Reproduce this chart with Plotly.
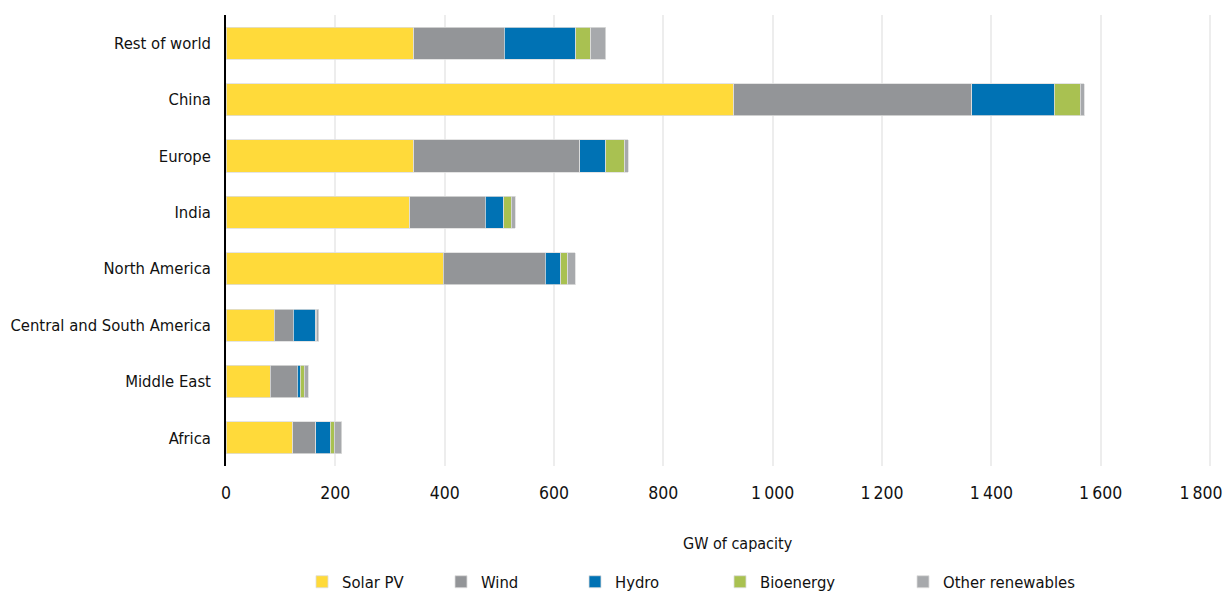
import plotly.graph_objects as go

# Regions, listed top to bottom as displayed
regions = [
    "Rest of world",
    "China",
    "Europe",
    "India",
    "North America",
    "Central and South America",
    "Middle East",
    "Africa",
]

# Renewable capacity by technology (GW)
solar_pv = [343, 929, 343, 336, 397, 88, 81, 122]
wind = [166, 435, 304, 138, 187, 35, 49, 42]
hydro = [131, 151, 48, 34, 28, 41, 6, 27]
bioenergy = [27, 48, 34, 14, 13, 1, 7, 7]
other_renewables = [28, 7, 7, 7, 14, 5, 7, 14]

tick_values = [0, 200, 400, 600, 800, 1000, 1200, 1400, 1600, 1800]
tick_labels = ["0", "200", "400", "600", "800", "1\u2009000", "1\u2009200",
               "1\u2009400", "1\u2009600", "1\u2009800"]

FONT = "DejaVu Sans Condensed, DejaVu Sans, sans-serif"

series = [
    ("Solar PV", solar_pv, "#FFDA3A", "legend"),
    ("Wind", wind, "#939598", "legend2"),
    ("Hydro", hydro, "#0072B4", "legend3"),
    ("Bioenergy", bioenergy, "#A9C151", "legend4"),
    ("Other renewables", other_renewables, "#A7A9AC", "legend5"),
]

fig = go.Figure()
for name, values, color, leg in series:
    fig.add_trace(go.Bar(
        y=regions,
        x=values,
        name=name,
        orientation="h",
        width=0.57,
        marker=dict(color=color, line=dict(color="#dddddd", width=0.8)),
        legend=leg,
        hoverinfo="x+name",
    ))

# Empty helper trace so the overlaid x axis (last tick label) is rendered
fig.add_trace(go.Scatter(
    x=[None], y=[None], xaxis="x2", yaxis="y",
    mode="markers", showlegend=False, hoverinfo="skip",
))

# Plot area starts at 226 px; 1800 GW sits at ~1210 px; y spans 15..466 px
L, R, T, B = 226, 8, 15, 126
W, H = 1226, 592
pw, ph = W - L - R, H - T - B
x_max = 1800 * pw / 984


def px_x(px):
    return (px - L) / pw


def px_y(py):
    return (H - B - py) / ph


legend_style = dict(
    orientation="h",
    yanchor="middle",
    xanchor="left",
    bgcolor="rgba(0,0,0,0)",
    font=dict(family=FONT, size=16.5, color="#111111"),
    itemclick=False,
)
legend_px = [302, 441, 575, 720, 903]
layout_legends = {}
for i, lx in enumerate(legend_px):
    key = "legend" if i == 0 else f"legend{i + 1}"
    layout_legends[key] = dict(legend_style, x=px_x(lx), y=px_y(582))

tick_font = dict(family=FONT, size=17.5, color="#111111")
last = len(tick_values) - 1

fig.update_layout(
    barmode="stack",
    width=W,
    height=H,
    margin=dict(l=L, r=R, t=T, b=B, pad=0, autoexpand=False),
    paper_bgcolor="white",
    plot_bgcolor="white",
    font=dict(family=FONT, size=16.5, color="#111111"),
    showlegend=True,
    **layout_legends,
    xaxis=dict(
        range=[0, x_max],
        tickvals=tick_values,
        # the last label is drawn by xaxis2, nudged left to stay on the page
        ticktext=tick_labels[:last] + [""],
        showgrid=True,
        gridcolor="#EDEDED",
        gridwidth=2,
        zeroline=False,
        showline=False,
        ticks="",
        automargin=False,
        tickfont=tick_font,
        ticklabelstandoff=14,
    ),
    xaxis2=dict(
        overlaying="x",
        range=[0, x_max],
        anchor="y",
        side="bottom",
        tickvals=[tick_values[last]],
        ticktext=[tick_labels[last]],
        ticklabelshift=-9,
        ticklabeloverflow="allow",
        showgrid=False,
        zeroline=False,
        showline=False,
        ticks="",
        automargin=False,
        tickfont=tick_font,
        ticklabelstandoff=14,
    ),
    yaxis=dict(
        autorange="reversed",
        showgrid=False,
        zeroline=False,
        showline=True,
        linecolor="#000000",
        linewidth=1.5,
        ticks="",
        automargin=False,
        tickfont=dict(family=FONT, size=16.5, color="#111111"),
        ticklabelstandoff=10,
    ),
    annotations=[
        dict(
            text="GW of capacity",
            xref="paper", yref="paper",
            x=px_x(738), y=px_y(543),
            xanchor="center", yanchor="middle",
            showarrow=False,
            font=dict(family=FONT, size=16, color="#111111"),
        )
    ],
)

fig.write_html("out.html")
